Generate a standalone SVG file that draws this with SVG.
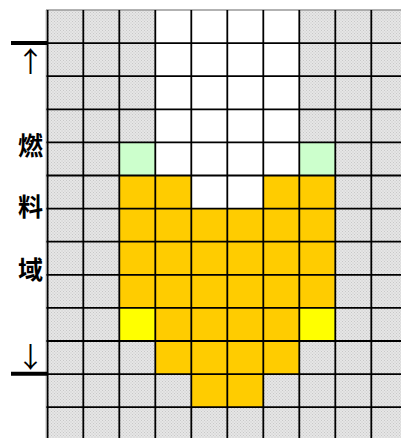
<svg xmlns="http://www.w3.org/2000/svg" width="401" height="438" viewBox="0 0 401 438">
<defs>
<pattern id="dots" width="3" height="3" patternUnits="userSpaceOnUse">
<rect width="3" height="3" fill="#e6e6e6"/>
<rect x="0" y="0" width="1" height="1" fill="#c8c8c8"/>
<rect x="1.5" y="1.5" width="1" height="1" fill="#c8c8c8"/>
</pattern>
</defs>
<style>
.g{fill:url(#dots)}
.w{fill:#ffffff}
.o{fill:#ffcc00}
.y{fill:#ffff00}
.l{fill:#ccffcc}
.grid line{stroke:#000;stroke-width:1.8}
.lab{font-family:"Noto Sans CJK SC","Noto Sans CJK JP",sans-serif;font-size:25px;font-weight:bold;fill:#000;text-anchor:middle}
.arr{font-family:"Noto Sans CJK JP","Noto Sans CJK SC",sans-serif;font-size:28px;fill:#000;text-anchor:middle}
</style>
<rect width="401" height="438" fill="#ffffff"/>
<g id="cells">
<rect class="g" x="47.3" y="10" width="360" height="430"/>
<rect class="w" x="155.3" y="10" width="144" height="132.4"/>
<rect class="l" x="119.3" y="142.4" width="36" height="33.1"/>
<rect class="w" x="155.3" y="142.4" width="144" height="33.1"/>
<rect class="l" x="299.3" y="142.4" width="36" height="33.1"/>
<rect class="o" x="119.3" y="175.5" width="72" height="33.1"/>
<rect class="w" x="191.3" y="175.5" width="72" height="33.1"/>
<rect class="o" x="263.3" y="175.5" width="72" height="33.1"/>
<rect class="o" x="119.3" y="208.6" width="216" height="99.3"/>
<rect class="y" x="119.3" y="307.9" width="36" height="33.1"/>
<rect class="o" x="155.3" y="307.9" width="144" height="33.1"/>
<rect class="y" x="299.3" y="307.9" width="36" height="33.1"/>
<rect class="o" x="155.3" y="341" width="144" height="33.1"/>
<rect class="o" x="191.3" y="374.1" width="72" height="33.1"/>
</g>
<g id="grid" class="grid">
<line x1="46" y1="10" x2="401" y2="10" style="stroke:#999;stroke-width:1.5"/>
<line x1="46" y1="43.1" x2="401" y2="43.1"/>
<line x1="46" y1="76.2" x2="401" y2="76.2"/>
<line x1="46" y1="109.3" x2="401" y2="109.3"/>
<line x1="46" y1="142.4" x2="401" y2="142.4"/>
<line x1="46" y1="175.5" x2="401" y2="175.5"/>
<line x1="46" y1="208.6" x2="401" y2="208.6"/>
<line x1="46" y1="241.7" x2="401" y2="241.7"/>
<line x1="46" y1="274.8" x2="401" y2="274.8"/>
<line x1="46" y1="307.9" x2="401" y2="307.9"/>
<line x1="46" y1="341" x2="401" y2="341"/>
<line x1="46" y1="374.1" x2="401" y2="374.1"/>
<line x1="46" y1="407.2" x2="401" y2="407.2"/>
<line x1="46" y1="10" x2="46" y2="438" style="stroke:#bbb;stroke-width:1"/>
<line x1="47.6" y1="10" x2="47.6" y2="438"/>
<line x1="83.3" y1="10" x2="83.3" y2="438"/>
<line x1="119.3" y1="10" x2="119.3" y2="438"/>
<line x1="155.3" y1="10" x2="155.3" y2="438"/>
<line x1="191.3" y1="10" x2="191.3" y2="438"/>
<line x1="227.3" y1="10" x2="227.3" y2="438"/>
<line x1="263.3" y1="10" x2="263.3" y2="438"/>
<line x1="299.3" y1="10" x2="299.3" y2="438"/>
<line x1="335.3" y1="10" x2="335.3" y2="438"/>
<line x1="371.3" y1="10" x2="371.3" y2="438"/>
</g>
<g id="annotations">
<line x1="11" y1="43" x2="47" y2="43" stroke="#000" stroke-width="4"/>
<line x1="11" y1="373.7" x2="47" y2="373.7" stroke="#000" stroke-width="4"/>
<text class="arr" x="30.5" y="72">↑</text>
<text class="arr" x="30.5" y="368">↓</text>
<text class="lab" x="30.5" y="155">燃</text>
<text class="lab" x="30.5" y="216">料</text>
<text class="lab" x="30.5" y="279">域</text>
</g>
</svg>
